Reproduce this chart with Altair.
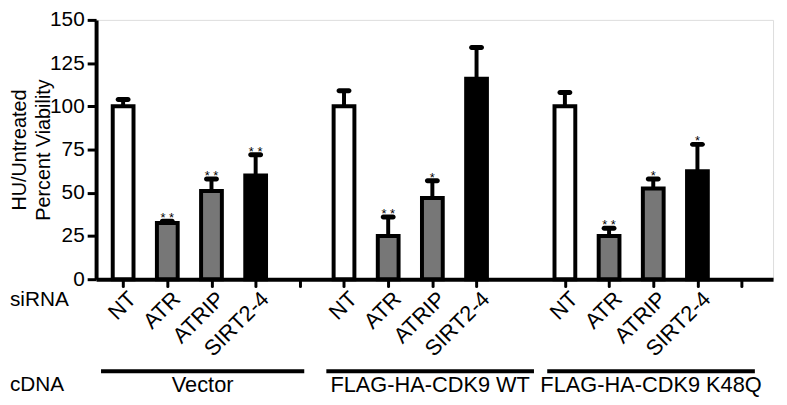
import altair as alt
import pandas as pd

# ---- data ----
groups = ["Vector", "FLAG-HA-CDK9 WT", "FLAG-HA-CDK9 K48Q"]
sirnas = ["NT", "ATR", "ATRIP", "SIRT2-4"]
slots = [1, 2, 3, 4, 6, 7, 8, 9, 11, 12, 13, 14]
group_of = ["Vector"] * 4 + ["FLAG-HA-CDK9 WT"] * 4 + ["FLAG-HA-CDK9 K48Q"] * 4
sirna_of = sirnas * 3
values = [100, 32.5, 51, 60, 100, 25, 47, 116, 100, 25, 52.5, 62.5]
err_top = [104, 33.5, 58, 72, 109, 36, 57, 134, 108, 29.5, 58, 78]
stars = ["", "* *", "* *", "* *", "", "* *", "*", "", "", "* *", "*", "*"]
tick_slots = [1, 2, 3, 4, 5, 6, 7, 8, 9, 11, 12, 13, 14, 15]
group_start = [0.5, 5.6, 10.6]
group_end = [5.1, 10.3, 15.3]
y_ticks = [0, 25, 50, 75, 100, 125, 150]

df = pd.DataFrame({
    "slot": slots, "group": group_of, "siRNA": sirna_of,
    "value": values, "err": err_top, "star": stars,
})
gdf = pd.DataFrame({
    "group": groups, "start": group_start, "end": group_end,
    "mid": [(a + b) / 2 for a, b in zip(group_start, group_end)],
})

label_arr = [""] * 16
for s, n in zip(slots, sirna_of):
    label_arr[s] = n
label_expr = "[" + ",".join("'%s'" % t for t in label_arr) + "][datum.value]"

FONT = "Liberation Sans"

x_enc = alt.X("slot:Q",
              scale=alt.Scale(domain=[0.5, 15.6], nice=False, zero=False),
              axis=alt.Axis(values=tick_slots, labelExpr=label_expr, title=None,
                            grid=False, labelAngle=-45, labelAlign="right",
                            labelBaseline="middle", labelFontSize=22,
                            labelPadding=9, labelOffset=9, labelFlush=False,
                            labelOverlap=False, labelBound=False,
                            domainWidth=4, domainColor="black",
                            tickSize=7, tickWidth=3, tickColor="black",
                            tickCap="round", labelColor="black", labelFont=FONT))
y_enc = alt.Y("value:Q",
              scale=alt.Scale(domain=[0, 150], nice=False),
              axis=alt.Axis(values=y_ticks, grid=False,
                            title=["HU/Untreated", "Percent Viability"],
                            titleFontSize=20, titleFontWeight="normal",
                            titleLineHeight=24, titlePadding=-4,
                            titleColor="black", titleFont=FONT,
                            labelFontSize=21, labelPadding=3, labelColor="black",
                            labelFont=FONT, domainWidth=4, domainColor="black",
                            tickSize=9, tickWidth=3, tickColor="black"))

base = alt.Chart(df)

err_rule = base.mark_rule(color="black", strokeWidth=4).encode(
    x=x_enc, y=y_enc, y2="err:Q")
cap = base.mark_tick(color="black", orient="horizontal", size=15, thickness=5,
                     cornerRadius=2.5, opacity=1).encode(
    x="slot:Q", y="err:Q")
bars = base.mark_bar(size=21, stroke="black", strokeWidth=4).encode(
    x="slot:Q", y="value:Q",
    fill=alt.Fill("siRNA:N", legend=None,
                  scale=alt.Scale(domain=sirnas,
                                  range=["white", "#777777", "#777777", "black"])))
star_text = base.mark_text(fontSize=13, baseline="alphabetic", dy=1,
                           color="black", font=FONT).encode(
    x="slot:Q", y="err:Q", text="star:N")

glines = alt.Chart(gdf).mark_rule(color="black", strokeWidth=4).encode(
    x="start:Q", x2="end:Q", y=alt.value(355))
glabels = alt.Chart(gdf).mark_text(fontSize=22, baseline="middle", color="black",
                                   font=FONT).encode(
    x="mid:Q", y=alt.value(369), text="group:N")

side = pd.DataFrame({"t": ["siRNA", "cDNA"]})
sirna_lbl = alt.Chart(side[side.t == "siRNA"]).mark_text(
    fontSize=21, align="left", baseline="middle", color="black", font=FONT).encode(
    x=alt.value(-87), y=alt.value(283), text="t:N")
cdna_lbl = alt.Chart(side[side.t == "cDNA"]).mark_text(
    fontSize=21, align="left", baseline="middle", color="black", font=FONT).encode(
    x=alt.value(-87), y=alt.value(369), text="t:N")

chart = alt.layer(err_rule, cap, bars, star_text, glines, glabels,
                  sirna_lbl, cdna_lbl).properties(
    width=684, height=262,
    padding={"left": 89, "top": 10, "right": 6, "bottom": 117},
    autosize=alt.AutoSizeParams(type="none"),
).configure_view(stroke=None).configure(font=FONT)

chart.save("out.html", embed_options={"renderer": "svg", "actions": False})
